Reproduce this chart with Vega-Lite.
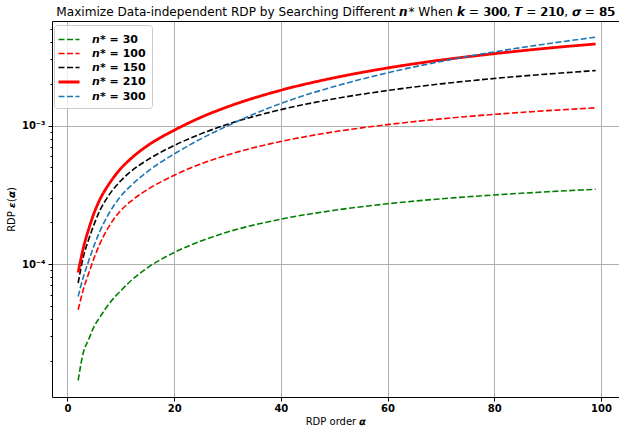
{
  "$schema": "https://vega.github.io/schema/vega-lite/v6.json",
  "width": 567,
  "height": 376,
  "autosize": {"type": "none"},
  "padding": {"left": 52, "top": 21, "right": 0, "bottom": 32},
  "title": {
    "text": "Maximize Data-independent RDP by Searching Different \ud835\ude63* When \ud835\ude60 = \ud835\udfef\ud835\udfec\ud835\udfec, \ud835\ude4f = \ud835\udfee\ud835\udfed\ud835\udfec, \ud835\udfbc = \ud835\udff4\ud835\udff1",
    "font": "DejaVu Sans",
    "fontSize": 12.1,
    "fontWeight": "normal",
    "color": "black",
    "anchor": "middle",
    "offset": 3
  },
  "data": {
    "values": [
      {"a": 2, "series": "\ud835\ude63* = 30", "eps": 1.445e-5},
      {"a": 3, "series": "\ud835\ude63* = 30", "eps": 2.317e-5},
      {"a": 4, "series": "\ud835\ude63* = 30", "eps": 2.871e-5},
      {"a": 5, "series": "\ud835\ude63* = 30", "eps": 3.548e-5},
      {"a": 6, "series": "\ud835\ude63* = 30", "eps": 4.093e-5},
      {"a": 8, "series": "\ud835\ude63* = 30", "eps": 5.284e-5},
      {"a": 10, "series": "\ud835\ude63* = 30", "eps": 6.427e-5},
      {"a": 12, "series": "\ud835\ude63* = 30", "eps": 7.638e-5},
      {"a": 15, "series": "\ud835\ude63* = 30", "eps": 9.397e-5},
      {"a": 20, "series": "\ud835\ude63* = 30", "eps": 1.211e-4},
      {"a": 25, "series": "\ud835\ude63* = 30", "eps": 1.466e-4},
      {"a": 30, "series": "\ud835\ude63* = 30", "eps": 1.702e-4},
      {"a": 40, "series": "\ud835\ude63* = 30", "eps": 2.109e-4},
      {"a": 50, "series": "\ud835\ude63* = 30", "eps": 2.443e-4},
      {"a": 60, "series": "\ud835\ude63* = 30", "eps": 2.723e-4},
      {"a": 70, "series": "\ud835\ude63* = 30", "eps": 2.958e-4},
      {"a": 80, "series": "\ud835\ude63* = 30", "eps": 3.155e-4},
      {"a": 90, "series": "\ud835\ude63* = 30", "eps": 3.327e-4},
      {"a": 99, "series": "\ud835\ude63* = 30", "eps": 3.467e-4},

      {"a": 2, "series": "\ud835\ude63* = 100", "eps": 4.677e-5},
      {"a": 3, "series": "\ud835\ude63* = 100", "eps": 6.607e-5},
      {"a": 4, "series": "\ud835\ude63* = 100", "eps": 8.610e-5},
      {"a": 5, "series": "\ud835\ude63* = 100", "eps": 1.109e-4},
      {"a": 6, "series": "\ud835\ude63* = 100", "eps": 1.380e-4},
      {"a": 8, "series": "\ud835\ude63* = 100", "eps": 1.928e-4},
      {"a": 10, "series": "\ud835\ude63* = 100", "eps": 2.438e-4},
      {"a": 12, "series": "\ud835\ude63* = 100", "eps": 2.864e-4},
      {"a": 15, "series": "\ud835\ude63* = 100", "eps": 3.451e-4},
      {"a": 20, "series": "\ud835\ude63* = 100", "eps": 4.375e-4},
      {"a": 25, "series": "\ud835\ude63* = 100", "eps": 5.284e-4},
      {"a": 30, "series": "\ud835\ude63* = 100", "eps": 6.138e-4},
      {"a": 40, "series": "\ud835\ude63* = 100", "eps": 7.674e-4},
      {"a": 50, "series": "\ud835\ude63* = 100", "eps": 9.016e-4},
      {"a": 60, "series": "\ud835\ude63* = 100", "eps": 1.016e-3},
      {"a": 70, "series": "\ud835\ude63* = 100", "eps": 1.117e-3},
      {"a": 80, "series": "\ud835\ude63* = 100", "eps": 1.205e-3},
      {"a": 90, "series": "\ud835\ude63* = 100", "eps": 1.282e-3},
      {"a": 99, "series": "\ud835\ude63* = 100", "eps": 1.343e-3},

      {"a": 2, "series": "\ud835\ude63* = 150", "eps": 7.295e-5},
      {"a": 3, "series": "\ud835\ude63* = 150", "eps": 1.135e-4},
      {"a": 4, "series": "\ud835\ude63* = 150", "eps": 1.514e-4},
      {"a": 5, "series": "\ud835\ude63* = 150", "eps": 1.941e-4},
      {"a": 6, "series": "\ud835\ude63* = 150", "eps": 2.399e-4},
      {"a": 8, "series": "\ud835\ude63* = 150", "eps": 3.236e-4},
      {"a": 10, "series": "\ud835\ude63* = 150", "eps": 3.999e-4},
      {"a": 12, "series": "\ud835\ude63* = 150", "eps": 4.699e-4},
      {"a": 15, "series": "\ud835\ude63* = 150", "eps": 5.649e-4},
      {"a": 20, "series": "\ud835\ude63* = 150", "eps": 7.178e-4},
      {"a": 25, "series": "\ud835\ude63* = 150", "eps": 8.710e-4},
      {"a": 30, "series": "\ud835\ude63* = 150", "eps": 1.021e-3},
      {"a": 40, "series": "\ud835\ude63* = 150", "eps": 1.303e-3},
      {"a": 50, "series": "\ud835\ude63* = 150", "eps": 1.560e-3},
      {"a": 60, "series": "\ud835\ude63* = 150", "eps": 1.791e-3},
      {"a": 70, "series": "\ud835\ude63* = 150", "eps": 2.000e-3},
      {"a": 80, "series": "\ud835\ude63* = 150", "eps": 2.188e-3},
      {"a": 90, "series": "\ud835\ude63* = 150", "eps": 2.355e-3},
      {"a": 99, "series": "\ud835\ude63* = 150", "eps": 2.495e-3},

      {"a": 2, "series": "\ud835\ude63* = 210", "eps": 8.69e-5},
      {"a": 3, "series": "\ud835\ude63* = 210", "eps": 1.318e-4},
      {"a": 4, "series": "\ud835\ude63* = 210", "eps": 1.799e-4},
      {"a": 5, "series": "\ud835\ude63* = 210", "eps": 2.344e-4},
      {"a": 6, "series": "\ud835\ude63* = 210", "eps": 2.884e-4},
      {"a": 8, "series": "\ud835\ude63* = 210", "eps": 3.890e-4},
      {"a": 10, "series": "\ud835\ude63* = 210", "eps": 4.898e-4},
      {"a": 12, "series": "\ud835\ude63* = 210", "eps": 5.821e-4},
      {"a": 15, "series": "\ud835\ude63* = 210", "eps": 7.161e-4},
      {"a": 20, "series": "\ud835\ude63* = 210", "eps": 9.247e-4},
      {"a": 25, "series": "\ud835\ude63* = 210", "eps": 1.146e-3},
      {"a": 30, "series": "\ud835\ude63* = 210", "eps": 1.365e-3},
      {"a": 40, "series": "\ud835\ude63* = 210", "eps": 1.799e-3},
      {"a": 50, "series": "\ud835\ude63* = 210", "eps": 2.213e-3},
      {"a": 60, "series": "\ud835\ude63* = 210", "eps": 2.606e-3},
      {"a": 70, "series": "\ud835\ude63* = 210", "eps": 2.972e-3},
      {"a": 80, "series": "\ud835\ude63* = 210", "eps": 3.304e-3},
      {"a": 90, "series": "\ud835\ude63* = 210", "eps": 3.622e-3},
      {"a": 99, "series": "\ud835\ude63* = 210", "eps": 3.882e-3},

      {"a": 2, "series": "\ud835\ude63* = 300", "eps": 5.834e-5},
      {"a": 3, "series": "\ud835\ude63* = 300", "eps": 8.128e-5},
      {"a": 4, "series": "\ud835\ude63* = 300", "eps": 1.059e-4},
      {"a": 5, "series": "\ud835\ude63* = 300", "eps": 1.365e-4},
      {"a": 6, "series": "\ud835\ude63* = 300", "eps": 1.698e-4},
      {"a": 8, "series": "\ud835\ude63* = 300", "eps": 2.399e-4},
      {"a": 10, "series": "\ud835\ude63* = 300", "eps": 3.090e-4},
      {"a": 12, "series": "\ud835\ude63* = 300", "eps": 3.715e-4},
      {"a": 15, "series": "\ud835\ude63* = 300", "eps": 4.656e-4},
      {"a": 20, "series": "\ud835\ude63* = 300", "eps": 6.237e-4},
      {"a": 25, "series": "\ud835\ude63* = 300", "eps": 8.017e-4},
      {"a": 30, "series": "\ud835\ude63* = 300", "eps": 9.954e-4},
      {"a": 40, "series": "\ud835\ude63* = 300", "eps": 1.445e-3},
      {"a": 50, "series": "\ud835\ude63* = 300", "eps": 1.914e-3},
      {"a": 60, "series": "\ud835\ude63* = 300", "eps": 2.404e-3},
      {"a": 70, "series": "\ud835\ude63* = 300", "eps": 2.904e-3},
      {"a": 80, "series": "\ud835\ude63* = 300", "eps": 3.404e-3},
      {"a": 90, "series": "\ud835\ude63* = 300", "eps": 3.899e-3},
      {"a": 99, "series": "\ud835\ude63* = 300", "eps": 4.345e-3}
    ]
  },
  "layer": [
    {
      "mark": {"type": "line", "interpolate": "monotone", "clip": true},
      "encoding": {
        "x": {
          "field": "a", "type": "quantitative",
          "scale": {"domain": [-2.9, 103.38], "nice": false, "zero": false},
          "axis": {
            "values": [0, 20, 40, 60, 80, 100],
            "title": "RDP order \ud835\udfaa",
            "tickSize": 4, "labelPadding": 2, "titlePadding": 3,
            "grid": true, "domain": true
          }
        },
        "y": {
          "field": "eps", "type": "quantitative",
          "scale": {"type": "log", "domain": [1.096e-5, 5.69e-3], "nice": false},
          "axis": {
            "values": [2e-5, 3e-5, 4e-5, 5e-5, 6e-5, 7e-5, 8e-5, 9e-5, 1e-4, 2e-4, 3e-4, 4e-4, 5e-4, 6e-4, 7e-4, 8e-4, 9e-4, 1e-3, 2e-3, 3e-3, 4e-3, 5e-3],
            "labelExpr": "(datum.value > 9.9e-4 && datum.value < 1.01e-3) ? '10⁻³' : ((datum.value > 9.9e-5 && datum.value < 1.01e-4) ? '10⁻⁴' : '')",
            "title": "RDP \ud835\udfae(\ud835\udfaa)",
            "tickSize": {"condition": {"test": "abs(log(datum.value)/LN10 - round(log(datum.value)/LN10)) < 0.001", "value": 4}, "value": 2},
            "gridOpacity": {"condition": {"test": "abs(log(datum.value)/LN10 - round(log(datum.value)/LN10)) < 0.001", "value": 1}, "value": 0},
            "labelPadding": 3, "titlePadding": 5,
            "grid": true, "domain": true
          }
        },
        "color": {
          "field": "series", "type": "ordinal",
          "scale": {
            "domain": ["\ud835\ude63* = 30", "\ud835\ude63* = 100", "\ud835\ude63* = 150", "\ud835\ude63* = 210", "\ud835\ude63* = 300"],
            "range": ["#008000", "#ff0000", "#000000", "#ff0000", "#1f77b4"]
          },
          "legend": {"title": null}
        },
        "strokeDash": {
          "field": "series", "type": "ordinal",
          "scale": {
            "domain": ["\ud835\ude63* = 30", "\ud835\ude63* = 100", "\ud835\ude63* = 150", "\ud835\ude63* = 210", "\ud835\ude63* = 300"],
            "range": [[6, 2.5], [6, 2.5], [6, 2.5], [1, 0], [6, 2.5]]
          },
          "legend": {"title": null}
        },
        "strokeWidth": {
          "field": "series", "type": "ordinal",
          "scale": {
            "type": "ordinal",
            "domain": ["\ud835\ude63* = 30", "\ud835\ude63* = 100", "\ud835\ude63* = 150", "\ud835\ude63* = 210", "\ud835\ude63* = 300"],
            "range": [1.6, 1.6, 1.6, 2.8, 1.6]
          },
          "legend": {"title": null}
        }
      }
    },
    {
      "mark": {"type": "line", "opacity": 0},
      "encoding": {
        "x": {
          "field": "a", "type": "quantitative",
          "axis": {"orient": "top", "labels": false, "ticks": false, "grid": false, "domain": true, "title": null}
        },
        "y": {"field": "eps", "type": "quantitative"},
        "detail": {"field": "series", "type": "nominal"}
      }
    }
  ],
  "resolve": {"axis": {"x": "independent"}},
  "config": {
    "view": {"stroke": null},
    "axis": {
      "labelFont": "DejaVu Sans", "labelFontSize": 10, "labelFontWeight": "bold", "labelColor": "black",
      "titleFont": "DejaVu Sans", "titleFontSize": 10, "titleFontWeight": "normal", "titleColor": "black",
      "domainColor": "black", "domainWidth": 1, "tickColor": "black", "tickWidth": 1,
      "gridColor": "#b0b0b0", "gridWidth": 1
    },
    "legend": {
      "orient": "none", "legendX": 2, "legendY": 4,
      "symbolType": "M-1.4,0H1.4", "symbolSize": 225,
      "labelFont": "DejaVu Sans", "labelFontSize": 11, "labelFontWeight": "bold", "labelColor": "black",
      "strokeColor": "#cccccc", "fillColor": "rgba(255,255,255,0.8)", "cornerRadius": 3,
      "padding": 6, "rowPadding": 0, "labelOffset": 14
    }
  }
}
